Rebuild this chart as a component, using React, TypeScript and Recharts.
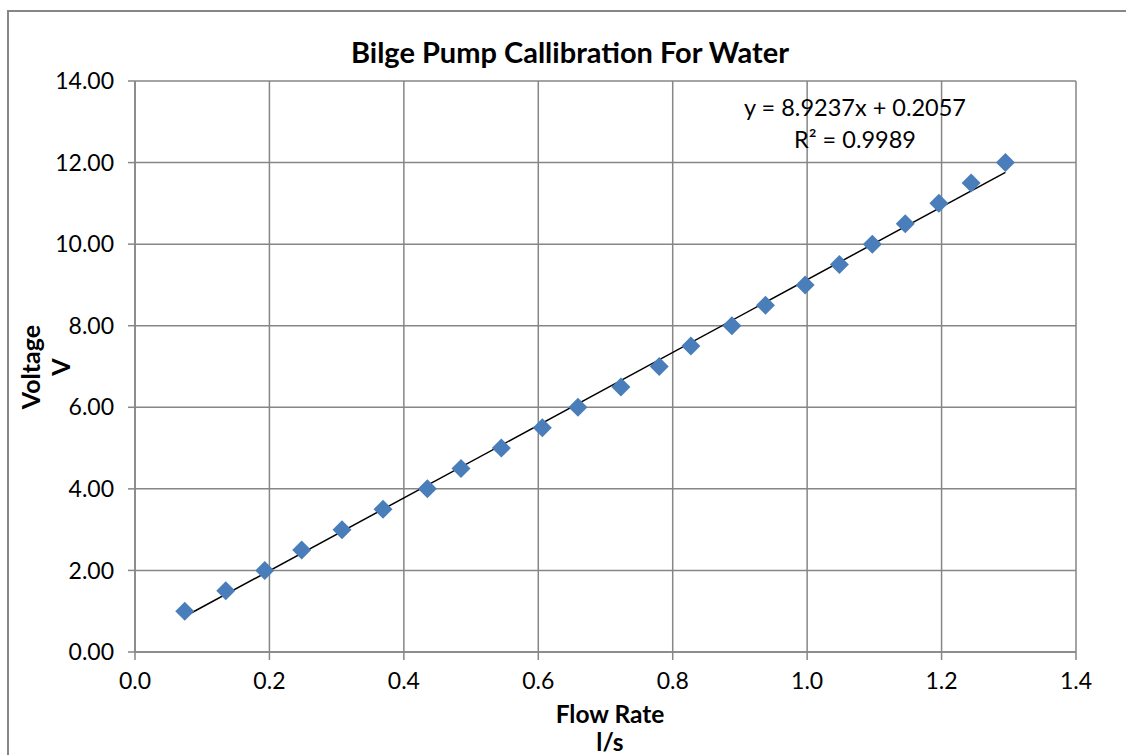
import React from 'react';
import {
  ScatterChart,
  Scatter,
  XAxis,
  YAxis,
  CartesianGrid,
} from 'recharts';

// flow rate (l/s) vs voltage (V)
const flowRate = [
  0.074, 0.135, 0.193, 0.248, 0.308, 0.369, 0.435, 0.485, 0.545, 0.606, 0.659,
  0.723, 0.78, 0.827, 0.888, 0.938, 0.997, 1.048, 1.097, 1.146, 1.196, 1.244, 1.295,
];
const voltage = [
  1.0, 1.5, 2.0, 2.5, 3.0, 3.5, 4.0, 4.5, 5.0, 5.5, 6.0,
  6.5, 7.0, 7.5, 8.0, 8.5, 9.0, 9.5, 10.0, 10.5, 11.0, 11.5, 12.0,
];

// linear trendline ends
const trendX = [0.074, 1.295];
const trendY = [0.87, 11.76];

const xTicks = [0, 0.2, 0.4, 0.6, 0.8, 1.0, 1.2, 1.4];
const yTicks = [0, 2, 4, 6, 8, 10, 12, 14];

const points = flowRate.map((x, i) => ({ x, y: voltage[i] }));
const trend = trendX.map((x, i) => ({ x, y: trendY[i] }));

const FONT = 'Lato, "Open Sans", sans-serif';
const GRID = '#868686';

const Diamond = (props: any) => {
  const { cx, cy } = props;
  const r = 9.5;
  return (
    <polygon
      points={`${cx},${cy - r} ${cx + r},${cy} ${cx},${cy + r} ${cx - r},${cy}`}
      fill="#4a7ebb"
    />
  );
};

const NoDot = () => <g />;

export default function App() {
  return (
    <div
      style={{
        position: 'absolute',
        left: 0,
        top: 0,
        width: 1126,
        height: 755,
        overflow: 'hidden',
        background: '#fff',
        fontFamily: FONT,
      }}
    >
      <div
        style={{
          position: 'absolute',
          left: 7,
          top: 10,
          width: 1200,
          height: 900,
          border: `2px solid ${GRID}`,
          boxSizing: 'border-box',
        }}
      />
      <ScatterChart
        width={1126}
        height={755}
        margin={{ top: 81, right: 50, left: 0, bottom: 0 }}
        style={{ position: 'absolute', left: 0, top: 0 }}
      >
        <CartesianGrid stroke={GRID} strokeWidth={1.5} />
        <XAxis
          type="number"
          dataKey="x"
          domain={[0, 1.4]}
          ticks={xTicks}
          tickFormatter={(v: number) => v.toFixed(1)}
          height={103}
          tickSize={8}
          tickMargin={13}
          stroke={GRID}
          strokeWidth={1.5}
          tick={{ fill: '#000', fontSize: 23, fontFamily: FONT }}
          allowDataOverflow
        />
        <YAxis
          type="number"
          dataKey="y"
          domain={[0, 14]}
          ticks={yTicks}
          tickFormatter={(v: number) => v.toFixed(2)}
          width={135}
          tickSize={7}
          tickMargin={14}
          stroke={GRID}
          strokeWidth={1.5}
          tick={{ fill: '#000', fontSize: 23, fontFamily: FONT }}
          allowDataOverflow
        />
        <Scatter
          data={trend}
          line={{ stroke: '#000', strokeWidth: 1.5 }}
          shape={NoDot}
          isAnimationActive={false}
        />
        <Scatter data={points} shape={Diamond} isAnimationActive={false} />
      </ScatterChart>

      <div
        style={{
          position: 'absolute',
          left: 0,
          width: 1140,
          top: 34,
          textAlign: 'center',
          fontWeight: 700,
          fontSize: 29,
          lineHeight: '36px',
        }}
      >
        Bilge Pump Callibration For Water
      </div>

      <div
        style={{
          position: 'absolute',
          left: 700,
          width: 310,
          top: 91,
          textAlign: 'center',
          fontSize: 23.5,
          lineHeight: '32px',
        }}
      >
        y = 8.9237x + 0.2057
        <br />
        R² = 0.9989
      </div>

      <div
        style={{
          position: 'absolute',
          left: 405,
          width: 410,
          top: 700,
          textAlign: 'center',
          fontWeight: 700,
          fontSize: 24.5,
          lineHeight: '28px',
        }}
      >
        Flow Rate
        <br />
        l/s
      </div>

      <div
        style={{
          position: 'absolute',
          left: 45 - 200,
          top: 367 - 30,
          width: 400,
          height: 60,
          transform: 'rotate(-90deg)',
          textAlign: 'center',
          fontWeight: 700,
          fontSize: 25,
          lineHeight: '30px',
        }}
      >
        Voltage
        <br />
        V
      </div>
    </div>
  );
}
